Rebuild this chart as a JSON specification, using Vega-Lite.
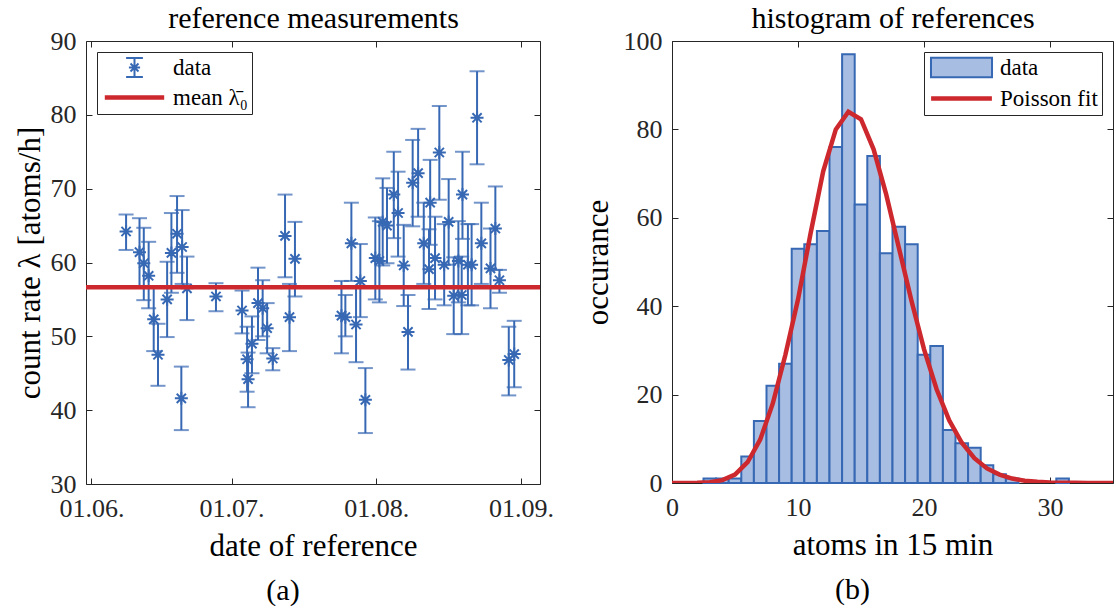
{
  "$schema": "https://vega.github.io/schema/vega-lite/v6.json",
  "background": "white",
  "padding": {"left": 14, "top": 3, "right": 0, "bottom": 0},
  "bounds": "flush",
  "spacing": 132,
  "datasets": {
    "meas": [
      {"date": "2016-06-08T10:00:00Z", "rate": 64.2, "lo": 61.7, "hi": 66.5},
      {"date": "2016-06-11T07:00:00Z", "rate": 61.4, "lo": 56.7, "hi": 66.0},
      {"date": "2016-06-12T05:00:00Z", "rate": 59.9, "lo": 54.9, "hi": 64.7},
      {"date": "2016-06-13T06:00:00Z", "rate": 58.2, "lo": 53.8, "hi": 62.8},
      {"date": "2016-06-14T08:00:00Z", "rate": 52.3, "lo": 48.0, "hi": 56.6},
      {"date": "2016-06-15T06:00:00Z", "rate": 47.5, "lo": 43.3, "hi": 51.7},
      {"date": "2016-06-17T05:00:00Z", "rate": 55.0, "lo": 49.9, "hi": 60.1},
      {"date": "2016-06-18T03:00:00Z", "rate": 61.3, "lo": 55.9, "hi": 66.7},
      {"date": "2016-06-19T08:00:00Z", "rate": 63.9, "lo": 58.6, "hi": 69.0},
      {"date": "2016-06-20T10:00:00Z", "rate": 62.1, "lo": 57.1, "hi": 67.1},
      {"date": "2016-06-21T11:00:00Z", "rate": 56.5, "lo": 52.2, "hi": 60.8},
      {"date": "2016-06-20T06:00:00Z", "rate": 41.6, "lo": 37.3, "hi": 45.9},
      {"date": "2016-06-27T16:00:00Z", "rate": 55.4, "lo": 53.4, "hi": 57.2},
      {"date": "2016-07-03T06:00:00Z", "rate": 53.5, "lo": 50.4, "hi": 56.2},
      {"date": "2016-07-04T08:00:00Z", "rate": 46.9, "lo": 42.5, "hi": 51.3},
      {"date": "2016-07-04T13:00:00Z", "rate": 44.2, "lo": 40.4, "hi": 47.8},
      {"date": "2016-07-05T09:00:00Z", "rate": 49.0, "lo": 45.0, "hi": 52.7},
      {"date": "2016-07-06T16:00:00Z", "rate": 54.5, "lo": 49.5, "hi": 59.3},
      {"date": "2016-07-07T16:00:00Z", "rate": 53.8, "lo": 50.0, "hi": 57.6},
      {"date": "2016-07-08T15:00:00Z", "rate": 51.1, "lo": 47.7, "hi": 54.5},
      {"date": "2016-07-09T20:00:00Z", "rate": 47.0, "lo": 45.4, "hi": 48.4},
      {"date": "2016-07-12T11:00:00Z", "rate": 63.6, "lo": 58.0, "hi": 69.2},
      {"date": "2016-07-14T14:00:00Z", "rate": 60.5, "lo": 55.4, "hi": 65.5},
      {"date": "2016-07-13T10:00:00Z", "rate": 52.6, "lo": 48.0, "hi": 57.1},
      {"date": "2016-07-24T13:00:00Z", "rate": 52.8, "lo": 47.7, "hi": 57.5},
      {"date": "2016-07-25T09:00:00Z", "rate": 52.6, "lo": 50.0, "hi": 55.6},
      {"date": "2016-07-26T16:00:00Z", "rate": 62.6, "lo": 57.5, "hi": 68.1},
      {"date": "2016-07-27T16:00:00Z", "rate": 51.6, "lo": 46.5, "hi": 56.6},
      {"date": "2016-07-28T14:00:00Z", "rate": 57.5, "lo": 52.6, "hi": 62.5},
      {"date": "2016-07-29T16:00:00Z", "rate": 41.4, "lo": 36.9, "hi": 45.7},
      {"date": "2016-07-31T19:00:00Z", "rate": 60.6, "lo": 55.0, "hi": 66.1},
      {"date": "2016-08-01T16:00:00Z", "rate": 60.2, "lo": 54.6, "hi": 65.6},
      {"date": "2016-08-02T09:00:00Z", "rate": 65.5, "lo": 59.6, "hi": 71.4},
      {"date": "2016-08-03T07:00:00Z", "rate": 65.0, "lo": 59.9, "hi": 70.1},
      {"date": "2016-08-04T18:00:00Z", "rate": 69.2, "lo": 63.3, "hi": 75.0},
      {"date": "2016-08-05T16:00:00Z", "rate": 66.7, "lo": 60.8, "hi": 72.3},
      {"date": "2016-08-06T21:00:00Z", "rate": 59.6, "lo": 54.1, "hi": 65.1},
      {"date": "2016-08-07T19:00:00Z", "rate": 50.6, "lo": 45.5, "hi": 55.6},
      {"date": "2016-08-08T19:00:00Z", "rate": 70.8, "lo": 64.9, "hi": 76.6},
      {"date": "2016-08-09T23:00:00Z", "rate": 72.1, "lo": 66.2, "hi": 78.1},
      {"date": "2016-08-11T04:00:00Z", "rate": 62.6, "lo": 57.1, "hi": 68.1},
      {"date": "2016-08-12T07:00:00Z", "rate": 59.1, "lo": 53.7, "hi": 64.5},
      {"date": "2016-08-12T13:00:00Z", "rate": 68.1, "lo": 62.4, "hi": 73.9},
      {"date": "2016-08-13T14:00:00Z", "rate": 60.6, "lo": 55.0, "hi": 66.2},
      {"date": "2016-08-14T12:00:00Z", "rate": 74.9, "lo": 68.5, "hi": 81.2},
      {"date": "2016-08-15T13:00:00Z", "rate": 59.7, "lo": 54.2, "hi": 65.2},
      {"date": "2016-08-16T12:00:00Z", "rate": 65.5, "lo": 59.7, "hi": 71.3},
      {"date": "2016-08-17T14:00:00Z", "rate": 55.5, "lo": 50.3, "hi": 60.7},
      {"date": "2016-08-18T14:00:00Z", "rate": 60.2, "lo": 54.6, "hi": 65.6},
      {"date": "2016-08-19T07:00:00Z", "rate": 55.6, "lo": 50.3, "hi": 60.8},
      {"date": "2016-08-19T11:00:00Z", "rate": 69.2, "lo": 63.2, "hi": 75.0},
      {"date": "2016-08-20T15:00:00Z", "rate": 59.7, "lo": 54.2, "hi": 65.2},
      {"date": "2016-08-21T10:00:00Z", "rate": 59.7, "lo": 54.2, "hi": 65.2},
      {"date": "2016-08-22T14:00:00Z", "rate": 79.6, "lo": 73.3, "hi": 85.9},
      {"date": "2016-08-23T12:00:00Z", "rate": 62.6, "lo": 57.1, "hi": 68.1},
      {"date": "2016-08-25T11:00:00Z", "rate": 59.2, "lo": 53.8, "hi": 64.6},
      {"date": "2016-08-26T12:00:00Z", "rate": 64.6, "lo": 59.0, "hi": 70.3},
      {"date": "2016-08-27T09:00:00Z", "rate": 57.6, "lo": 55.9, "hi": 59.0},
      {"date": "2016-08-29T09:00:00Z", "rate": 46.8, "lo": 42.0, "hi": 51.3},
      {"date": "2016-08-30T13:00:00Z", "rate": 47.6, "lo": 43.1, "hi": 52.1}
    ],
    "mean": [{"mean": 56.65}],
    "legA": [{"series": "data"}, {"series": "mean λ̄₀"}],
    "legB": [{"series": "data"}, {"series": "Poisson fit"}],
    "hist": [
      {"bin_start": 2.5, "bin_end": 3.5, "count": 1},
      {"bin_start": 3.5, "bin_end": 4.5, "count": 1},
      {"bin_start": 4.5, "bin_end": 5.5, "count": 1},
      {"bin_start": 5.5, "bin_end": 6.5, "count": 6},
      {"bin_start": 6.5, "bin_end": 7.5, "count": 14},
      {"bin_start": 7.5, "bin_end": 8.5, "count": 22},
      {"bin_start": 8.5, "bin_end": 9.5, "count": 27},
      {"bin_start": 9.5, "bin_end": 10.5, "count": 53},
      {"bin_start": 10.5, "bin_end": 11.5, "count": 54},
      {"bin_start": 11.5, "bin_end": 12.5, "count": 57},
      {"bin_start": 12.5, "bin_end": 13.5, "count": 76},
      {"bin_start": 13.5, "bin_end": 14.5, "count": 97},
      {"bin_start": 14.5, "bin_end": 15.5, "count": 63},
      {"bin_start": 15.5, "bin_end": 16.5, "count": 74},
      {"bin_start": 16.5, "bin_end": 17.5, "count": 52},
      {"bin_start": 17.5, "bin_end": 18.5, "count": 58},
      {"bin_start": 18.5, "bin_end": 19.5, "count": 54},
      {"bin_start": 19.5, "bin_end": 20.5, "count": 29},
      {"bin_start": 20.5, "bin_end": 21.5, "count": 31},
      {"bin_start": 21.5, "bin_end": 22.5, "count": 12},
      {"bin_start": 22.5, "bin_end": 23.5, "count": 9},
      {"bin_start": 23.5, "bin_end": 24.5, "count": 8},
      {"bin_start": 24.5, "bin_end": 25.5, "count": 4},
      {"bin_start": 25.5, "bin_end": 26.5, "count": 2},
      {"bin_start": 26.5, "bin_end": 27.5, "count": 1},
      {"bin_start": 30.5, "bin_end": 31.5, "count": 1}
    ],
    "fit": [
      {"k": 0, "fit": 0.0}, {"k": 1, "fit": 0.01}, {"k": 2, "fit": 0.04}, {"k": 3, "fit": 0.18},
      {"k": 4, "fit": 0.65}, {"k": 5, "fit": 1.9}, {"k": 6, "fit": 4.7}, {"k": 7, "fit": 9.8},
      {"k": 8, "fit": 18.0}, {"k": 9, "fit": 29.0}, {"k": 10, "fit": 41.5}, {"k": 11, "fit": 56.5},
      {"k": 12, "fit": 70.5}, {"k": 13, "fit": 80.0}, {"k": 14, "fit": 84.0}, {"k": 15, "fit": 82.3},
      {"k": 16, "fit": 75.5}, {"k": 17, "fit": 65.3}, {"k": 18, "fit": 53.3}, {"k": 19, "fit": 41.3},
      {"k": 20, "fit": 30.3}, {"k": 21, "fit": 21.2}, {"k": 22, "fit": 14.2}, {"k": 23, "fit": 9.1},
      {"k": 24, "fit": 5.6}, {"k": 25, "fit": 3.3}, {"k": 26, "fit": 1.9}, {"k": 27, "fit": 1.0},
      {"k": 28, "fit": 0.5}, {"k": 29, "fit": 0.27}, {"k": 30, "fit": 0.13}, {"k": 31, "fit": 0.06},
      {"k": 32, "fit": 0.03}, {"k": 33, "fit": 0.01}, {"k": 34, "fit": 0.01}, {"k": 35, "fit": 0.0}
    ]
  },
  "config": {
    "view": {"stroke": null},
    "axis": {
      "grid": false,
      "domainColor": "#262626", "tickColor": "#262626", "labelColor": "#262626", "titleColor": "#000000",
      "domainWidth": 1, "tickWidth": 1, "tickSize": -6,
      "labelFont": "Liberation Serif", "labelFontSize": 26, "labelPadding": 16,
      "titleFont": "Liberation Serif", "titleFontSize": 31, "titleFontWeight": "normal",
      "labelFlush": false, "labelOverlap": false
    },
    "axisX": {"labelPadding": 17},
    "title": {"font": "Liberation Serif", "fontSize": 30, "fontWeight": "normal", "color": "#000000"},
    "legend": {
      "title": null, "padding": 4, "strokeColor": "#262626", "fillColor": "white", "cornerRadius": 0,
      "symbolOffset": 22, "labelOffset": 27, "rowPadding": 5, "symbolSize": 196,
      "symbolOpacity": 1, "symbolStrokeWidth": 2,
      "labelFont": "Liberation Serif", "labelFontSize": 23, "labelColor": "#000000", "offset": 11
    }
  },
  "resolve": {"scale": {"color": "independent", "fill": "independent", "stroke": "independent", "shape": "independent"}, "legend": {"color": "independent", "fill": "independent", "stroke": "independent", "shape": "independent"}},
  "hconcat": [
    {
      "width": 454, "height": 443,
      "title": {"text": "(a)", "orient": "bottom", "frame": "group", "anchor": "middle", "dx": -30, "offset": 15},
      "layer": [
        {
          "data": {"name": "meas"},
          "mark": {"type": "rule", "color": "#3768b4", "strokeWidth": 2},
          "encoding": {
            "x": {"field": "date", "type": "temporal",
              "scale": {"type": "utc", "domain": [{"year": 2016, "month": 5, "date": 30, "hours": 20, "utc": true}, {"year": 2016, "month": 9, "date": 5, "hours": 1, "minutes": 30, "utc": true}]},
              "axis": {"orient": "bottom", "values": [{"year": 2016, "month": 6, "date": 1, "utc": true}, {"year": 2016, "month": 7, "date": 1, "utc": true}, {"year": 2016, "month": 8, "date": 1, "utc": true}, {"year": 2016, "month": 9, "date": 1, "utc": true}],
                "labelExpr": "utcFormat(datum.value, '%d.%m.')", "title": "date of reference", "titlePadding": 10}},
            "y": {"field": "lo", "type": "quantitative", "scale": {"domain": [30, 90], "nice": false},
              "axis": {"orient": "left", "values": [30, 40, 50, 60, 70, 80, 90], "title": "count rate λ [atoms/h]", "titlePadding": 4}},
            "y2": {"field": "hi"}
          }
        },
        {
          "data": {"name": "meas"},
          "mark": {"type": "tick", "orient": "horizontal", "color": "#3768b4", "thickness": 2, "size": 15},
          "encoding": {
            "x": {"field": "date", "type": "temporal", "scale": {"type": "utc"}, "axis": null},
            "y": {"field": "lo", "type": "quantitative", "axis": null}
          }
        },
        {
          "data": {"name": "meas"},
          "mark": {"type": "tick", "orient": "horizontal", "color": "#3768b4", "thickness": 2, "size": 15},
          "encoding": {
            "x": {"field": "date", "type": "temporal", "scale": {"type": "utc"}, "axis": null},
            "y": {"field": "hi", "type": "quantitative", "axis": null}
          }
        },
        {
          "data": {"name": "meas"},
          "mark": {"type": "point", "filled": false, "strokeWidth": 2, "size": 169, "opacity": 1, "color": "#3768b4",
            "shape": "M-1,0H1M0,-1V1M-0.71,-0.71L0.71,0.71M-0.71,0.71L0.71,-0.71"},
          "encoding": {
            "x": {"field": "date", "type": "temporal", "scale": {"type": "utc"},
              "axis": {"orient": "top", "values": [{"year": 2016, "month": 6, "date": 1, "utc": true}, {"year": 2016, "month": 7, "date": 1, "utc": true}, {"year": 2016, "month": 8, "date": 1, "utc": true}, {"year": 2016, "month": 9, "date": 1, "utc": true}],
                "labels": false, "title": "reference measurements", "titleFontSize": 30, "titlePadding": 7}},
            "y": {"field": "rate", "type": "quantitative",
              "axis": {"orient": "right", "values": [30, 40, 50, 60, 70, 80, 90], "labels": false, "title": null}}
          }
        },
        {
          "data": {"name": "mean"},
          "mark": {"type": "rule", "strokeWidth": 4.5, "color": "#cd282d"},
          "encoding": {
            "y": {"field": "mean", "type": "quantitative", "axis": null}
          }
        },
        {
          "data": {"name": "legA"},
          "mark": {"type": "point", "filled": true, "opacity": 0, "strokeWidth": 2},
          "encoding": {
            "fill": {"field": "series", "type": "nominal",
              "scale": {"domain": ["data", "mean λ̄₀"], "range": ["transparent", "#cd282d"]},
              "legend": {"orient": "top-left", "title": null}},
            "stroke": {"field": "series", "type": "nominal",
              "scale": {"domain": ["data", "mean λ̄₀"], "range": ["#3768b4", "#cd282d"]},
              "legend": {"orient": "top-left", "title": null}},
            "shape": {"field": "series", "type": "nominal",
              "scale": {"domain": ["data", "mean λ̄₀"], "range": ["M-1.2,-1.35H1.2M0,-1.35V1.35M-1.2,1.35H1.2M-0.8,0H0.8M-0.57,-0.57L0.57,0.57M-0.57,0.57L0.57,-0.57", "M-4.1,-0.18H4.1V0.18H-4.1Z"]},
              "legend": {"orient": "top-left", "title": null}}
          }
        }
      ]
    },
    {
      "width": 441, "height": 442,
      "title": {"text": "(b)", "orient": "bottom", "frame": "group", "anchor": "middle", "dx": -40, "offset": 15},
      "layer": [
        {
          "data": {"name": "hist"},
          "mark": {"type": "bar", "stroke": "#3768b4", "strokeWidth": 2, "opacity": 1, "color": "#a8bde2"},
          "encoding": {
            "x": {"field": "bin_start", "type": "quantitative", "scale": {"domain": [0, 35], "nice": false, "zero": false},
              "axis": {"orient": "bottom", "values": [0, 10, 20, 30], "title": "atoms in 15 min", "titlePadding": 10}},
            "x2": {"field": "bin_end"},
            "y": {"field": "count", "type": "quantitative", "scale": {"domain": [0, 100], "nice": false},
              "axis": {"orient": "left", "values": [0, 20, 40, 60, 80, 100], "title": "occurance", "titlePadding": 9}},
            "y2": {"datum": 0}
          }
        },
        {
          "data": {"name": "fit"},
          "mark": {"type": "line", "strokeWidth": 4.5, "clip": true, "color": "#cd282d"},
          "encoding": {
            "x": {"field": "k", "type": "quantitative",
              "axis": {"orient": "top", "values": [0, 10, 20, 30], "labels": false, "title": "histogram of references", "titleFontSize": 30, "titlePadding": 7}},
            "y": {"field": "fit", "type": "quantitative",
              "axis": {"orient": "right", "values": [0, 20, 40, 60, 80, 100], "labels": false, "title": null}}
          }
        },
        {
          "data": {"name": "legB"},
          "mark": {"type": "point", "filled": true, "opacity": 0, "strokeWidth": 2},
          "encoding": {
            "fill": {"field": "series", "type": "nominal",
              "scale": {"domain": ["data", "Poisson fit"], "range": ["#a8bde2", "#cd282d"]},
              "legend": {"orient": "top-right", "title": null}},
            "stroke": {"field": "series", "type": "nominal",
              "scale": {"domain": ["data", "Poisson fit"], "range": ["#3768b4", "#cd282d"]},
              "legend": {"orient": "top-right", "title": null}},
            "shape": {"field": "series", "type": "nominal",
              "scale": {"domain": ["data", "Poisson fit"], "range": ["M-4.36,-1.38H4.36V1.38H-4.36Z", "M-4.2,-0.18H4.2V0.18H-4.2Z"]},
              "legend": {"orient": "top-right", "title": null}}
          }
        }
      ]
    }
  ]
}
